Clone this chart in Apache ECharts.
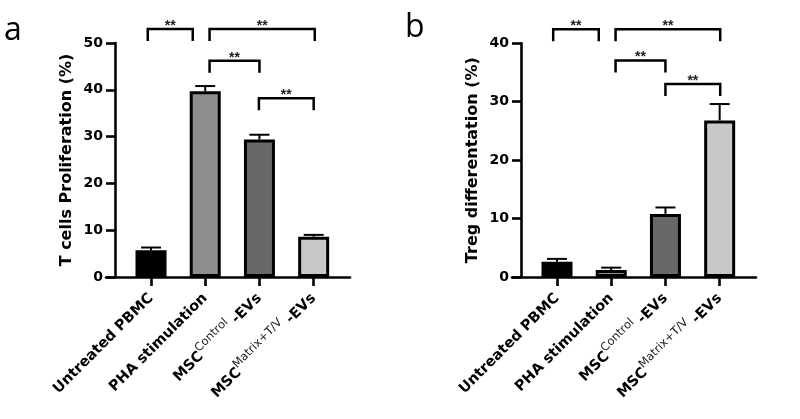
<!DOCTYPE html>
<html><head><meta charset="utf-8">
<script src="https://cdn.jsdelivr.net/npm/echarts@6/dist/echarts.min.js"></script>
<style>html,body{margin:0;padding:0;background:#fff}#c{width:800px;height:419px}</style>
</head><body><div id="c"></div>
<script>
// ---- data ----
const categories = ['Untreated PBMC', 'PHA stimulation', 'MSC^Control -EVs', 'MSC^Matrix+T/V -EVs'];
const categoryIndex = [0, 1, 2, 3];
const prolifMean = [5.7, 39.7, 29.4, 8.6];
const prolifErr = [0.6, 1.1, 1.0, 0.4];
const tregMean = [2.6, 1.2, 10.8, 26.8];
const tregErr = [0.5, 0.4, 1.1, 2.8];
const barColors = ['#000000', '#8e8e8e', '#686868', '#c8c8c8'];
const yTicksA = [0, 10, 20, 30, 40, 50];
const yTicksB = [0, 10, 20, 30, 40];
// significance comparisons: [from, to] (category units) and bracket level (data units)
const sigEndsA = [[-0.06, 0.77], [1.08, 3.02], [1.08, 2.0], [1.99, 3.0]];
const sigLevelsA = [53.0, 53.0, 46.2, 38.2];
const sigEndsB = [[-0.07, 0.77], [1.08, 3.01], [1.08, 2.0], [2.0, 3.01]];
const sigLevelsB = [42.4, 42.4, 37.05, 33.05];
const sigText = ['**', '**', '**', '**'];

// ---- helpers ----
function richLabel(s) {
  const m = s.match(/^(\w+)\^(\S+) (.*)$/);
  if (m) return '{b|' + m[1] + '}{s|' + m[2] + '}{b| ' + m[3] + '}';
  return '{b|' + s + '}';
}
const FONT = 'DejaVu Sans';
function xAxisCfg(gi) {
  return {
    type: 'value', gridIndex: gi, min: -0.83, max: 3.67,
    splitLine: { show: false },
    axisLine: { lineStyle: { color: '#000', width: 2.6 } },
    axisTick: { customValues: categoryIndex, length: 9, lineStyle: { color: '#000', width: 2.6 } },
    axisLabel: {
      customValues: categoryIndex, rotate: 45, margin: 19,
      formatter: v => richLabel(categories[Math.round(v)]),
      rich: {
        b: { fontFamily: FONT, fontWeight: 'bold', fontSize: 14.5, color: '#000', lineHeight: 24, verticalAlign: 'middle' },
        s: { fontFamily: FONT, fontWeight: 'normal', fontSize: 11.5, color: '#222', lineHeight: 12, verticalAlign: 'top' }
      }
    }
  };
}
function yAxisCfg(gi, max, name, ticks) {
  return {
    type: 'value', gridIndex: gi, min: ticks[0], max: max, interval: ticks[1] - ticks[0], offset: -9,
    name: name, nameLocation: 'middle', nameGap: 40,
    nameTextStyle: { fontFamily: FONT, fontWeight: 'bold', fontSize: 16, color: '#000' },
    splitLine: { show: false },
    axisLine: { show: true, onZero: false, lineStyle: { color: '#000', width: 2.6 } },
    axisTick: { show: true, length: 9, lineStyle: { color: '#000', width: 2.6 } },
    axisLabel: { margin: 12, fontFamily: FONT, fontWeight: 'bold', fontSize: 14, color: '#000' }
  };
}
function barSeries(gi, means) {
  return {
    type: 'bar', xAxisIndex: gi, yAxisIndex: gi, barWidth: 31, z: 3,
    data: means.map((v, i) => ({ value: [categoryIndex[i], v], itemStyle: { color: barColors[i] } })),
    itemStyle: { borderColor: '#000', borderWidth: 3 },
    animation: false
  };
}
function errSeries(gi, means, errs) {
  return {
    type: 'custom', xAxisIndex: gi, yAxisIndex: gi, z: 2, animation: false,
    data: means.map((v, i) => [categoryIndex[i], v, errs[i]]),
    encode: { x: 0, y: 1 },
    renderItem: (params, api) => {
      const x = api.value(0), m = api.value(1), e = api.value(2);
      const base = api.coord([x, m]);
      const top = api.coord([x, m + e]);
      return { type: 'group', children: [
        { type: 'line', shape: { x1: base[0], y1: base[1], x2: top[0], y2: top[1] }, style: { stroke: '#000', lineWidth: 2 } },
        { type: 'line', shape: { x1: top[0] - 10, y1: top[1], x2: top[0] + 10, y2: top[1] }, style: { stroke: '#000', lineWidth: 2 } }
      ] };
    }
  };
}
function sigSeries(gi, ends, levels) {
  return {
    type: 'custom', xAxisIndex: gi, yAxisIndex: gi, clip: false, z: 4, animation: false,
    data: ends.map((e, i) => [e[0], e[1], levels[i], i]),
    encode: { x: [0, 1], y: 2 },
    renderItem: (params, api) => {
      const p1 = api.coord([api.value(0), api.value(2)]);
      const p2 = api.coord([api.value(1), api.value(2)]);
      return { type: 'group', children: [
        { type: 'polyline', shape: { points: [[p1[0], p1[1] + 12], [p1[0], p1[1]], [p2[0], p2[1]], [p2[0], p2[1] + 12]] },
          style: { stroke: '#000', lineWidth: 2.5, fill: null } },
        { type: 'text', x: (p1[0] + p2[0]) / 2, y: p1[1] - 3,
          style: { text: sigText[api.value(3)], font: 'bold 14px "Liberation Sans"', fill: '#222', align: 'center', verticalAlign: 'middle' } }
      ] };
    }
  };
}

const chart = echarts.init(document.getElementById('c'), null, { renderer: 'canvas' });
chart.setOption({
  animation: false,
  backgroundColor: '#fff',
  grid: [
    { left: 106, top: 43, width: 244, height: 234 },
    { left: 512, top: 43.3, width: 244, height: 233.7 }
  ],
  xAxis: [xAxisCfg(0), xAxisCfg(1)],
  yAxis: [yAxisCfg(0, 50, 'T cells Proliferation (%)', yTicksA), yAxisCfg(1, 40, 'Treg differentation (%)', yTicksB)],
  graphic: [
    { type: 'text', left: 4, top: 15, style: { text: 'a', font: '32px "Open Sans"', fill: '#000' } },
    { type: 'text', left: 405, top: 12, style: { text: 'b', font: '32px "Open Sans"', fill: '#000' } }
  ],
  series: [
    barSeries(0, prolifMean), errSeries(0, prolifMean, prolifErr), sigSeries(0, sigEndsA, sigLevelsA),
    barSeries(1, tregMean), errSeries(1, tregMean, tregErr), sigSeries(1, sigEndsB, sigLevelsB)
  ]
});
</script></body></html>
